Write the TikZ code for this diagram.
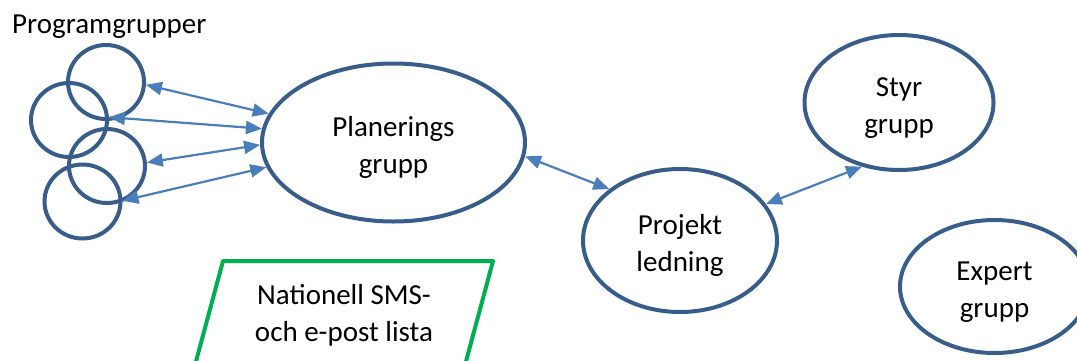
\documentclass[tikz,border=0pt]{standalone}
\usepackage{fontspec}
\setmainfont{Carlito}
\usetikzlibrary{arrows.meta,shapes.geometric}
\definecolor{ringblue}{HTML}{385D8A}
\definecolor{pilblue}{HTML}{4A7EBB}
\definecolor{listgreen}{HTML}{00B050}
\newcommand{\storfont}{\fontsize{29}{37}\selectfont}
\newcommand{\hojd}{\rule{0pt}{30pt}}

\begin{document}
\begin{tikzpicture}[x=1pt, y=-1pt,
  every node/.style = {font=\storfont, align=center, inner sep=0pt},
  grupp/.style = {shape=ellipse, draw=ringblue, line width=4pt},
  liten/.style = {grupp, minimum width=76pt, minimum height=74pt},
  pil/.style = {draw=pilblue, line width=2.2pt,
    {Triangle[length=16pt,width=13pt]}-{Triangle[length=16pt,width=13pt]}}]
  \useasboundingbox (0,0) rectangle (1077,360);
  \clip (0,0) rectangle (1077,360);

  % programgrupper
  \node[anchor=base west] (rubrik) at (12,33) {Programgrupper};
  \node[liten] (pg1) at (106,82) {};
  \node[liten] (pg2) at (69,120) {};
  \node[liten] (pg3) at (107,166) {};
  \node[liten] (pg4) at (82.5,201.5) {};

  % grupper
  \node[grupp, minimum width=263pt, minimum height=158pt] (plan) at (393.5,142.5) {\hojd Planerings\\grupp};
  \node[grupp, minimum width=194pt, minimum height=143pt] (proj) at (680,240.5) {\hojd Projekt\\ledning};
  \node[grupp, minimum width=189pt, minimum height=135pt] (styr) at (899,102.5) {\hojd Styr\\grupp};
  \node[grupp, minimum width=189pt, minimum height=133pt] (expert) at (994.5,286.5) {\hojd Expert\\grupp};

  % pilar
  \draw[pil] (pg1.-4) -- (plan.167.8);
  \draw[pil] (pg2.4) -- (plan.174);
  \draw[pil] (pg3.5) -- (plan.-179);
  \draw[pil] (pg4.1) -- (plan.-169);
  \draw[pil] (plan.-6.4) -- (proj.144.5);
  \draw[pil] (proj.23) -- (styr.-120);

  % lista
  \coordinate (lnw) at (223,261);
  \coordinate (lne) at (493,261);
  \coordinate (lse) at (461,380);
  \coordinate (lsw) at (191,380);
  \draw[listgreen, line width=4pt, line join=round] (lsw) -- (lnw) -- (lne) -- (lse) -- cycle;
  \node (lista) at (344,315) {Nationell SMS-\\och e-post lista};
\end{tikzpicture}
\end{document}
